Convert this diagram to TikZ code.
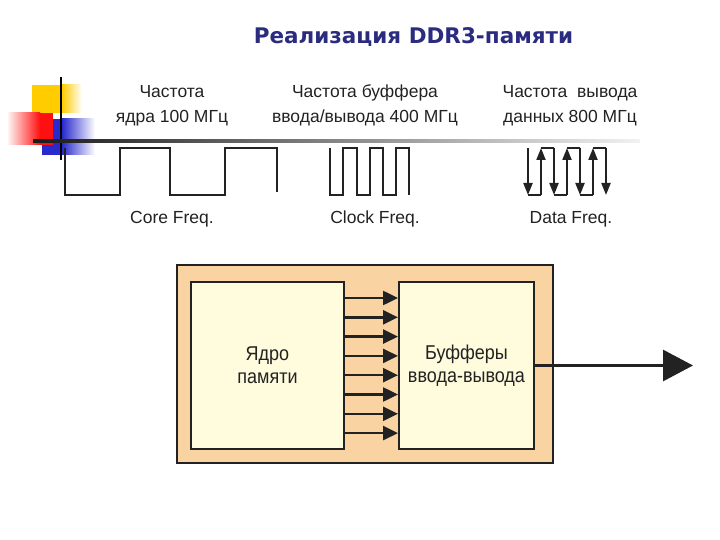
\documentclass[tikz,border=0pt]{standalone}
\usepackage{fontspec}
\setmainfont{Liberation Sans}
\newfontfamily\titlefont{DejaVu Sans}
\newfontfamily\narrowfont[FakeStretch=0.9]{Liberation Sans}
\usetikzlibrary{arrows.meta,positioning}
\definecolor{titleblue}{HTML}{2B2B80}
\definecolor{boxorange}{HTML}{FAD3A2}
\definecolor{boxyellow}{HTML}{FFFBDD}
\definecolor{inkgray}{HTML}{222222}
\definecolor{decoyellow}{HTML}{FFCC00}
\definecolor{decored}{HTML}{FF1010}
\definecolor{decoblue}{HTML}{2A2ACC}
\newcommand{\hdrSize}{\fontsize{17.5}{25}\selectfont}
\newcommand{\waveTop}{148}
\newcommand{\waveLow}{195}

\tikzset{
  hdr/.style={text=inkgray, font=\hdrSize, align=center, inner sep=0pt},
  wave/.style={line width=2pt, draw=inkgray, line join=miter},
  edgeDown/.style={wave, -{Triangle[length=12pt,width=9pt]}},
  block/.style={draw=inkgray, line width=2pt, fill=boxyellow, align=center,
    text=inkgray, font=\narrowfont\fontsize{20}{23}\selectfont, minimum height=167pt},
  bus/.style={line width=2.5pt, draw=inkgray, -{Triangle[length=15pt,width=14pt]}},
}

\begin{document}
\begin{tikzpicture}[x=1pt,y=-1pt]
  \useasboundingbox (0,0) rectangle (720,540);

  % corner decoration
  \fill[decoyellow] (32,85) rectangle (62,113);
  \shade[left color=decoyellow, right color=white] (62,85) rectangle (82,113);
  \fill[decoblue] (42,119) rectangle (62,155);
  \shade[left color=decoblue, right color=white] (62,119) rectangle (95,155);
  \shade[left color=decored!5, right color=decored] (8,113) rectangle (40,145);
  \fill[decored] (40,113) rectangle (53,145);
  \draw[line width=2pt, black] (61,77) -- (61,160);
  \shade[left color=black!90, middle color=black!55, right color=black!5]
    (33,139.5) rectangle (640,142.5);

  \node[text=titleblue, font=\titlefont\bfseries\fontsize{21.5}{24}\selectfont]
    (title) at (413.5,37.5) {Реализация DDR3-памяти};

  \node[hdr] (coreHdr) at (172,105.5) {Частота\\ядра 100 МГц};
  \node[hdr] (clockHdr) at (365,105.5) {Частота буффера\\ввода/вывода 400 МГц};
  \node[hdr] (dataHdr) at (570,105.5) {Частота\ \ вывода\\данных 800 МГц};

  % waveforms
  \draw[wave] (65,\waveTop) -- (65,\waveLow) -- (120,\waveLow) -- (120,\waveTop)
    -- (170,\waveTop) -- (170,\waveLow) -- (225,\waveLow) -- (225,\waveTop)
    -- (277,\waveTop) -- (277,192);
  \draw[wave] (330,\waveTop) |- (343,\waveLow) |- (357,\waveTop) |- (370,\waveLow)
    |- (383,\waveTop) |- (396,\waveLow) |- (409,\waveTop) -- (409,\waveLow);
  \foreach \xa/\xb in {528/541, 554/567, 580/593}{
    \draw[wave] (\xa,\waveLow) -- (\xb,\waveLow);
    \draw[edgeDown] (\xa,\waveTop) -- (\xa,\waveLow);
    \draw[edgeDown] (\xb,\waveLow) -- (\xb,\waveTop);
  }
  \foreach \xa/\xb in {541/554, 567/580, 593/606}
    \draw[wave] (\xa,\waveTop) -- (\xb,\waveTop);
  \draw[edgeDown] (606,\waveTop) -- (606,\waveLow);

  \node[hdr] (coreLbl) at (172,219) {Core Freq.};
  \node[hdr] (clockLbl) at (375,219) {Clock Freq.};
  \node[hdr] (dataLbl) at (571,219) {Data Freq.};

  % memory chip
  \node[draw=inkgray, line width=2pt, fill=boxorange, minimum width=376pt,
    minimum height=198pt] (chip) at (365,364) {};
  \node[block, minimum width=153pt] (core) at (267.5,365.5) {Ядро\\памяти};
  \node[block, minimum width=135pt] (buf) at (466.5,365.5) {Буфферы\\ввода-вывода};
  \foreach \k in {0,...,7}{
    \coordinate (lane) at (0,{298+19.3*\k});
    \draw[bus] (core.east |- lane) -- (buf.west |- lane);
  }
  \coordinate (out) at (693,365.5);
  \draw[line width=3pt, draw=inkgray, -{Triangle[length=30pt,width=31pt]}]
    (buf.east) -- (out);
\end{tikzpicture}
\end{document}
